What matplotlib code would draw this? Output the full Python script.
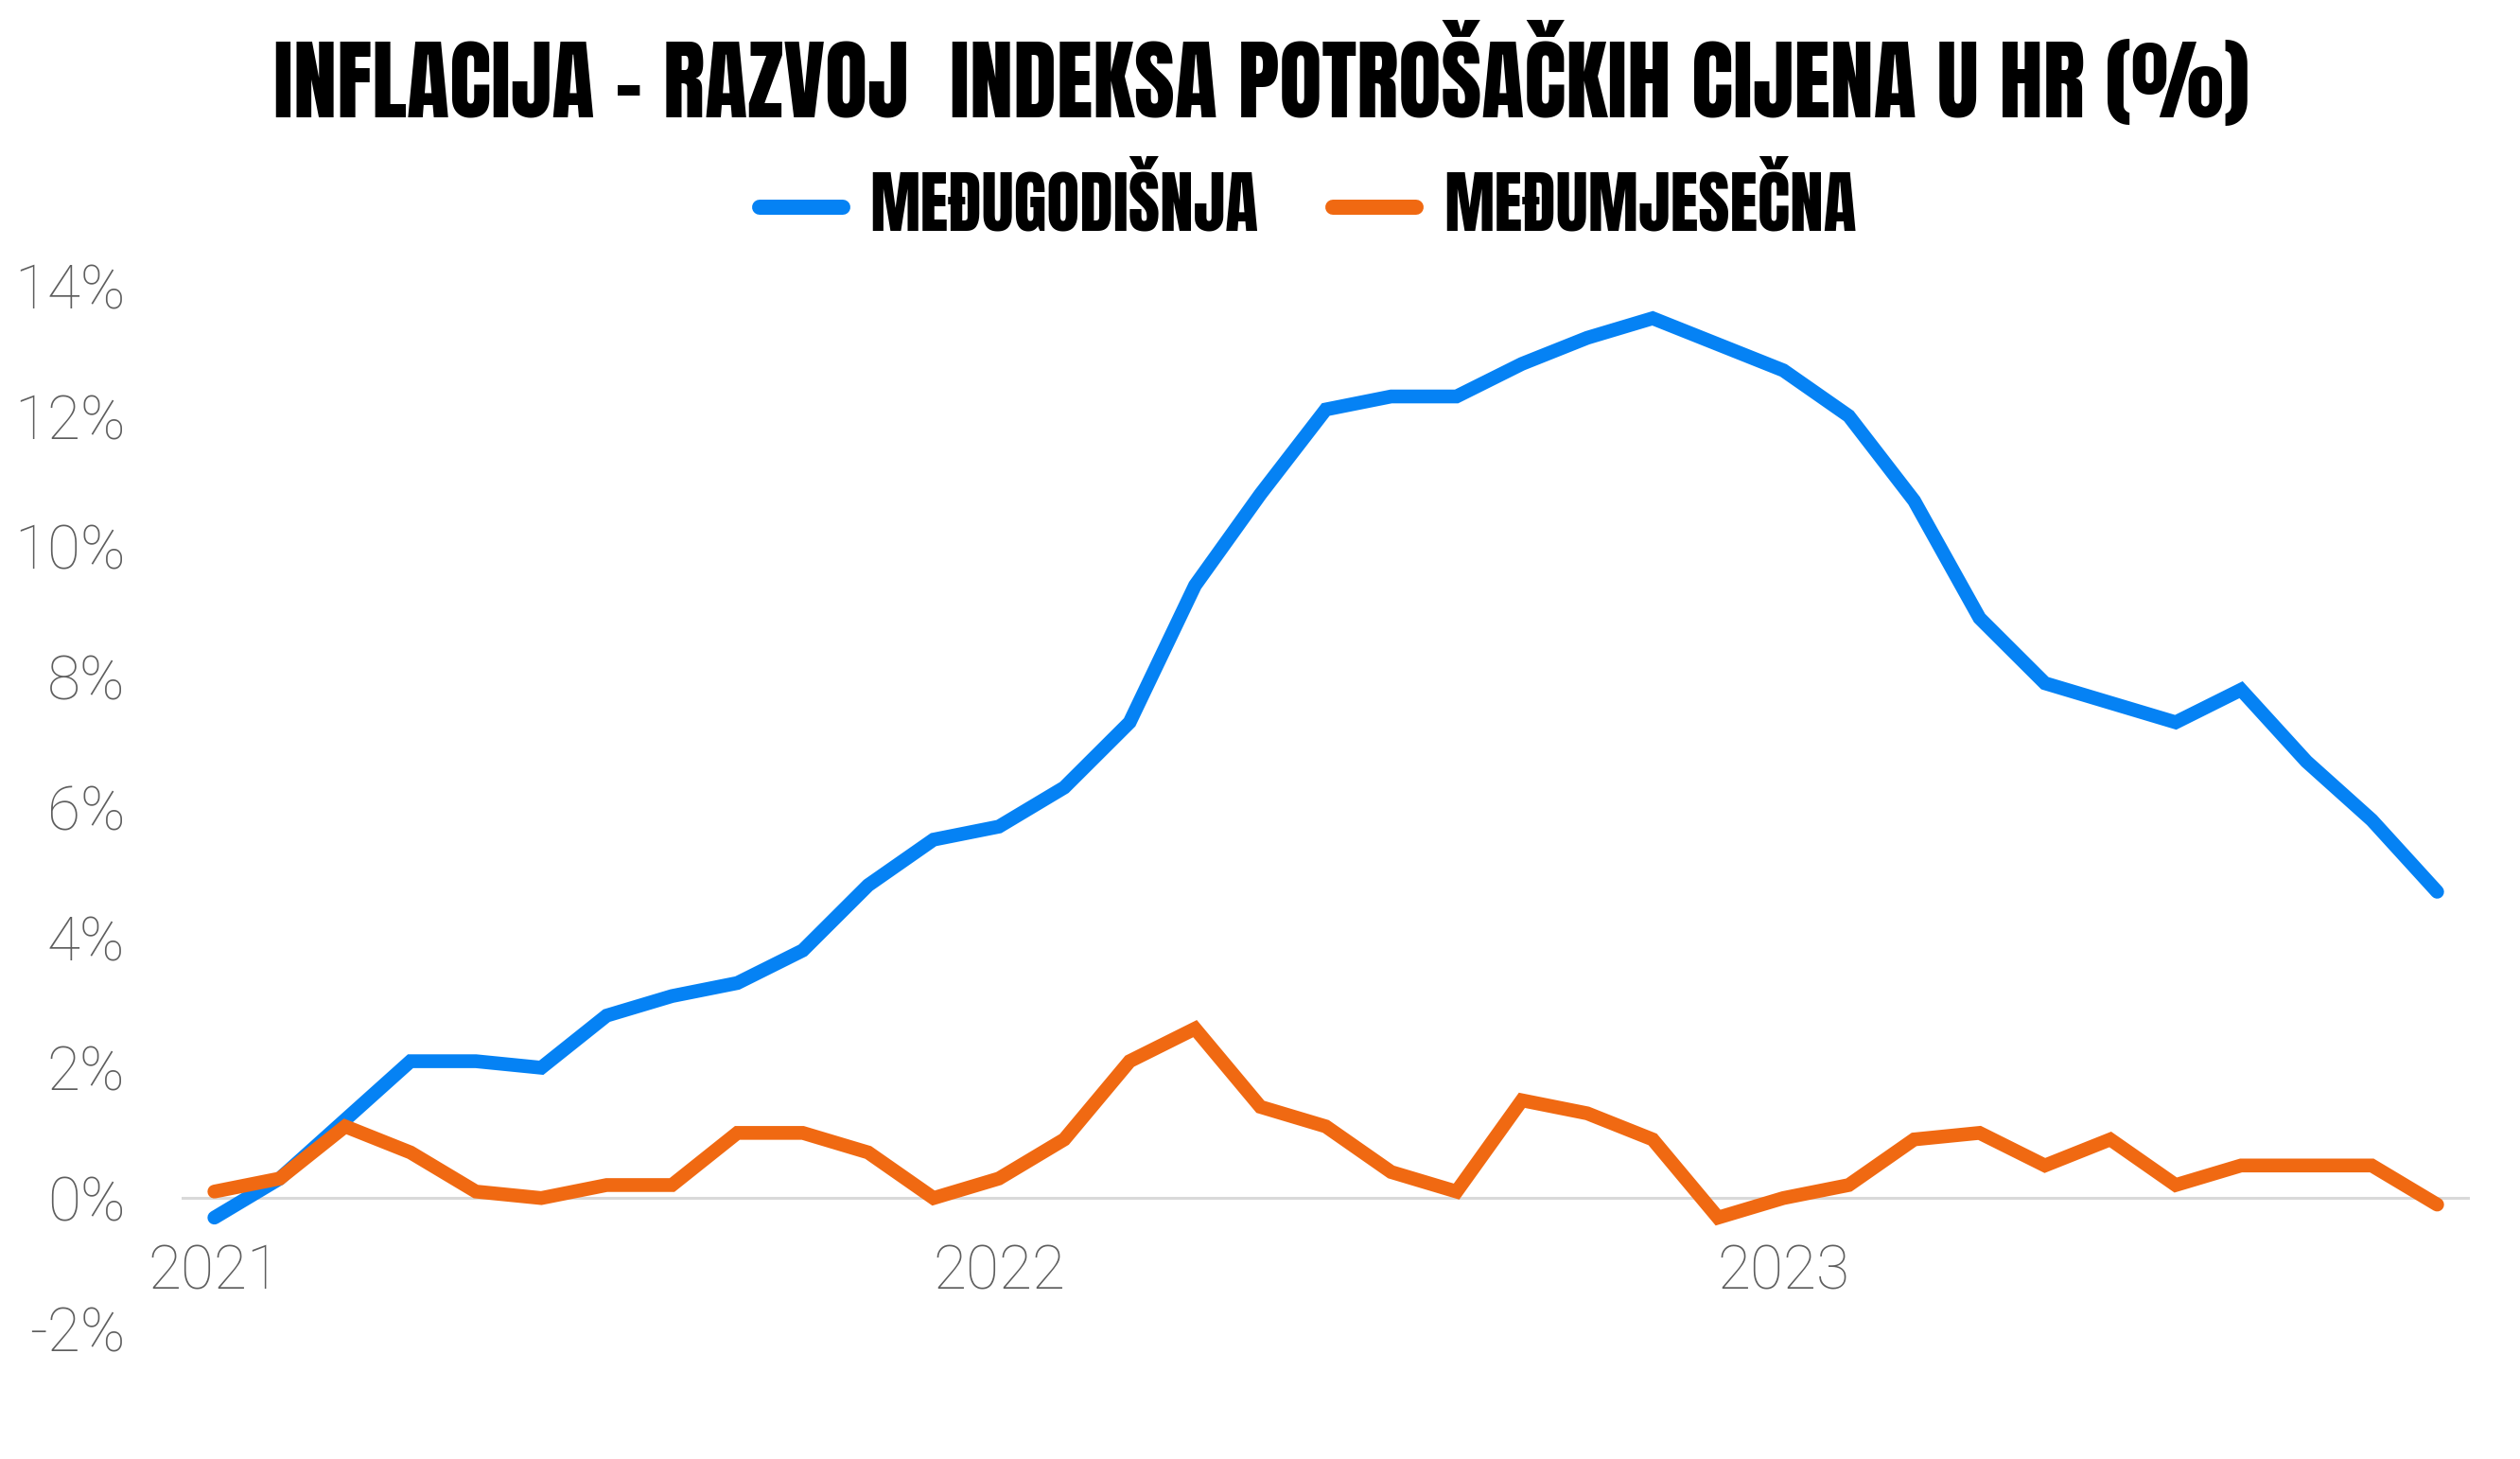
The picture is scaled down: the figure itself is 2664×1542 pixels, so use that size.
import numpy as np
import matplotlib.pyplot as plt

# monthly values, Jan 2021 - Nov 2023
months = np.arange(35)
yoy = [-0.3, 0.3, 1.2, 2.1, 2.1, 2.0, 2.8, 3.1, 3.3, 3.8, 4.8, 5.5,
       5.7, 6.3, 7.3, 9.4, 10.8, 12.1, 12.3, 12.3, 12.8, 13.2, 13.5, 13.1,
       12.7, 12.0, 10.7, 8.9, 7.9, 7.6, 7.3, 7.8, 6.7, 5.8, 4.7]
mom = [0.1, 0.3, 1.1, 0.7, 0.1, 0.0, 0.2, 0.2, 1.0, 1.0, 0.7, 0.0,
       0.3, 0.9, 2.1, 2.6, 1.4, 1.1, 0.4, 0.1, 1.5, 1.3, 0.9, -0.3,
       0.0, 0.2, 0.9, 1.0, 0.5, 0.9, 0.2, 0.5, 0.5, 0.5, -0.1]
year_ticks = [0, 12, 24]
year_labels = ['2021', '2022', '2023']
y_ticks = [-2, 0, 2, 4, 6, 8, 10, 12, 14]

title = 'INFLACIJA - RAZVOJ  INDEKSA POTROŠAČKIH CIJENA U HR (%)'
names = ['MEĐUGODIŠNJA', 'MEĐUMJESEČNA']
blue = '#0582f4'
orange = '#f06912'
narrow = ['Anton', 'Fjalla One', 'Oswald', 'DejaVu Sans']
DPI = 100

fig = plt.figure(figsize=(26.64, 15.42), dpi=DPI)
ax = fig.add_axes([0.0721, 0.0895, 0.908, 0.7147])


def fit_size(txt, target_px):
    # rescale a text so that its rendered width is target_px
    fig.canvas.draw()
    w = txt.get_window_extent().width
    txt.set_fontsize(txt.get_fontsize() * target_px / w)
    return txt.get_fontsize()


ax.axhline(0, color='#d9d9d9', lw=2.2, zorder=1)
ax.plot(months, yoy, color=blue, lw=10.5, solid_capstyle='round',
        solid_joinstyle='miter', label=names[0], zorder=3)
ax.plot(months, mom, color=orange, lw=10.5, solid_capstyle='round',
        solid_joinstyle='miter', label=names[1], zorder=3)

ax.set_xlim(-0.5, 34.5)
ax.set_ylim(-2, 14)
ax.set_xticks(year_ticks)
ax.set_xticklabels(year_labels)
ax.set_yticks(y_ticks)
ax.set_yticklabels([f'{v}%' for v in y_ticks])
for lab in ax.get_xticklabels() + ax.get_yticklabels():
    lab.set_fontfamily(['Roboto', 'DejaVu Sans'])
    lab.set_fontweight('light')
    lab.set_fontsize(46)
    lab.set_color('#5e5e5e')
ax.tick_params(length=0)
ax.tick_params(axis='x', pad=-65)
ax.tick_params(axis='y', pad=43)
for s in ax.spines.values():
    s.set_visible(False)

t = fig.text(0.5004, 1 - 79 / 1542, title, ha='center', va='center',
             fontsize=60, family=narrow)
fit_size(t, 2090)

# legend font size from the width of the first label
probe = fig.text(0, 0, names[0], fontsize=46, family=narrow)
fs = fit_size(probe, 410)
probe.remove()
fs_px = fs * DPI / 72
leg = fig.legend(loc='center', bbox_to_anchor=(0.519, 1 - 213 / 1542), ncol=2,
                 frameon=False, handlelength=88 / fs_px,
                 handletextpad=(21 + 8) / fs_px,
                 columnspacing=(70 + 8) / fs_px, borderpad=0,
                 prop={'family': narrow, 'size': fs})
for h in leg.get_lines():
    h.set_linewidth(11.5)
    h.set_solid_capstyle('round')

fig.savefig('out.png', dpi=DPI, facecolor='white')
